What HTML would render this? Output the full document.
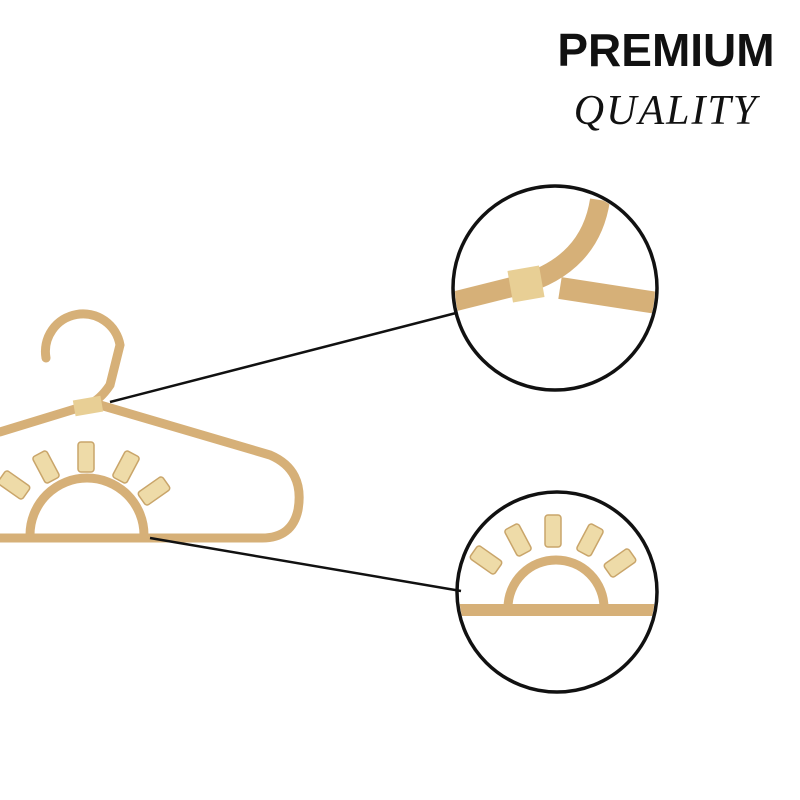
<!DOCTYPE html>
<html><head><meta charset="utf-8"><style>
html,body{margin:0;padding:0;background:#fff;}
svg{display:block;}
</style></head><body>
<svg width="800" height="800" viewBox="0 0 800 800" xmlns="http://www.w3.org/2000/svg">
<defs>
<clipPath id="c1"><circle cx="555" cy="288" r="100"/></clipPath>
<clipPath id="c2"><circle cx="557" cy="592" r="98"/></clipPath>
</defs>
<rect width="800" height="800" fill="#fff"/>
<text x="666" y="66" text-anchor="middle" font-family="Liberation Sans, sans-serif" font-weight="bold" font-size="46" fill="#111">PREMIUM</text>
<text x="666" y="124" text-anchor="middle" font-family="Liberation Serif, serif" font-style="italic" font-size="42" fill="#111" letter-spacing="2">QUALITY</text>

<!-- hanger -->
<g fill="none" stroke="#d6b078" stroke-width="9" stroke-linecap="round">
<path d="M46 358 A30 30 0 1 1 120 345 L110 385 Q100 400 88 405 L0 432"/>
<path d="M100 405 L270 455 Q305 470 298 510 Q292 538 262 538 L0 538"/>
<path d="M30 535 A57 57 0 0 1 144 535"/>
</g>
<g fill="#eedba8" stroke="#c9a56a" stroke-width="1.5">
<rect x="6" y="470" width="16" height="30" rx="3" transform="rotate(-55 14 485)"/>
<rect x="38" y="452" width="16" height="30" rx="3" transform="rotate(-28 46 467)"/>
<rect x="78" y="442" width="16" height="30" rx="3"/>
<rect x="118" y="452" width="16" height="30" rx="3" transform="rotate(28 126 467)"/>
<rect x="146" y="476" width="16" height="30" rx="3" transform="rotate(55 154 491)"/>
</g>
<rect x="74" y="398" width="28" height="16" fill="#e8cf95" transform="rotate(-10 88 406)"/>

<!-- connector lines -->
<line x1="110" y1="402" x2="456" y2="313" stroke="#111" stroke-width="2.5"/>
<line x1="150" y1="538" x2="461" y2="591" stroke="#111" stroke-width="2.5"/>

<!-- circle 1 -->
<g clip-path="url(#c1)">
<g fill="none" stroke="#d6b078" stroke-linecap="butt">
<path d="M440 305 L520 285" stroke-width="20"/>
<path d="M520 285 Q590 265 600 200" stroke-width="20"/>
<path d="M560 288 L670 305" stroke-width="22"/>
</g>
<rect x="510" y="268" width="32" height="32" fill="#e8cf95" transform="rotate(-10 526 284)"/>
</g>
<circle cx="555" cy="288" r="102" fill="none" stroke="#111" stroke-width="3.5"/>

<!-- circle 2 -->
<g clip-path="url(#c2)">
<path d="M455 610 L660 610" stroke="#d6b078" stroke-width="12"/>
<path d="M508 608 A48 48 0 0 1 604 608" fill="none" stroke="#d6b078" stroke-width="9"/>
<g fill="#eedba8" stroke="#c9a56a" stroke-width="1.5">
<rect x="478" y="545" width="16" height="30" rx="3" transform="rotate(-55 486 560)"/>
<rect x="510" y="525" width="16" height="30" rx="3" transform="rotate(-28 518 540)"/>
<rect x="545" y="515" width="16" height="32" rx="3"/>
<rect x="582" y="525" width="16" height="30" rx="3" transform="rotate(28 590 540)"/>
<rect x="612" y="548" width="16" height="30" rx="3" transform="rotate(55 620 563)"/>
</g>
</g>
<circle cx="557" cy="592" r="100" fill="none" stroke="#111" stroke-width="3.5"/>
</svg>
</body></html>
